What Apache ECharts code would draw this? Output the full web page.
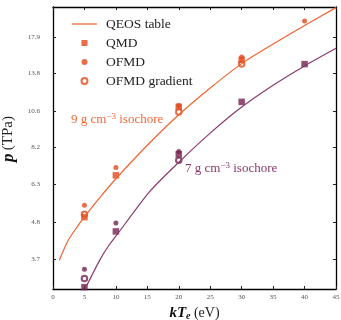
<!DOCTYPE html>
<html>
<head>
<meta charset="utf-8">
<script src="https://cdn.jsdelivr.net/npm/echarts@6/dist/echarts.min.js"></script>
<style>
  html, body { margin: 0; padding: 0; background: #fff; }
  #chart { width: 341px; height: 320px; }
</style>
</head>
<body>
<div id="chart"></div>
<script>
// tick labels (log-scaled pressure axis)
var yTicks = [3.7, 4.8, 6.3, 8.2, 10.6, 13.8, 17.9];

// QEOS table curves
var qeosT9 = [1, 2.4, 4, 5, 7.5, 10, 15, 20, 25, 30, 35, 40, 45];
var qeosP9 = [3.68, 4.23, 4.71, 5.0, 5.75, 6.55, 8.3, 10.3, 12.45, 14.8, 17.0, 19.4, 22.0];
var qeosT7 = [5.2, 7.5, 8.9, 10, 15.3, 20, 25, 30, 35, 40, 45];
var qeosP7 = [3.03, 3.7, 4.09, 4.36, 5.96, 7.36, 9.05, 10.88, 12.7, 14.56, 16.5];

// 9 g/cm3 isochore
var qmdT9 = [5, 10, 20, 30];
var qmdP9 = [4.99, 6.71, 10.9, 15.2];
var ofmdT9 = [5, 10, 20, 30, 40];
var ofmdP9 = [5.43, 7.09, 11.0, 15.5, 20.0];
var gradT9 = [5, 20, 30];
var gradP9 = [5.09, 10.5, 14.75];

// 7 g/cm3 isochore
var qmdT7 = [5, 10, 20, 30, 40];
var qmdP7 = [3.04, 4.51, 7.79, 11.29, 14.75];
var ofmdT7 = [5, 10, 20];
var ofmdP7 = [3.45, 4.79, 7.95];
var gradT7 = [5, 20];
var gradP7 = [3.23, 7.47];

var ORANGE = '#e24a1b';
var ORANGE_LINE = '#f2622e';
var PURPLE = '#74224f';
var PURPLE_LINE = '#8b3a6e';
var FONT = 'Liberation Serif';

function pts(t, p) {
  return t.map(function (x, i) { return [x, Math.log(p[i])]; });
}

var yMin = Math.log(3.0);
var yMax = Math.log(22.1);
var yTickVals = yTicks.map(function (v) { return Math.log(v); });

function xAxisCfg(pos, showLabel) {
  return {
    type: 'value',
    position: pos,
    min: 0,
    max: 45,
    interval: 5,
    name: showLabel ? '{b|kT}{s|e} {n|(eV)}' : '',
    nameLocation: 'middle',
    nameGap: 16,
    nameTextStyle: {
      rich: {
        b: { fontFamily: FONT, fontStyle: 'italic', fontWeight: 'bold', fontSize: 15, color: '#111' },
        s: { fontFamily: FONT, fontStyle: 'italic', fontWeight: 'bold', fontSize: 10, color: '#111', padding: [6, 0, 0, 0] },
        n: { fontFamily: FONT, fontSize: 14, color: '#222' }
      }
    },
    splitLine: { show: false },
    axisLine: { show: true, onZero: false, lineStyle: { color: '#000', width: 1.3 } },
    axisTick: { show: true, inside: true, length: 3, lineStyle: { color: '#222' } },
    axisLabel: { show: showLabel, margin: 5, fontFamily: FONT, fontSize: 7, color: '#555' }
  };
}

function yAxisCfg(pos, showLabel) {
  return {
    type: 'value',
    position: pos,
    min: yMin,
    max: yMax,
    name: showLabel ? '{b|p} {n|(TPa)}' : '',
    nameLocation: 'middle',
    nameGap: 23,
    nameTextStyle: {
      padding: [0, 0, 0, 18],
      rich: {
        b: { fontFamily: FONT, fontStyle: 'italic', fontWeight: 'bold', fontSize: 17, color: '#111' },
        n: { fontFamily: FONT, fontSize: 15, color: '#222' }
      }
    },
    splitLine: { show: false },
    axisLine: { show: true, onZero: false, lineStyle: { color: '#000', width: 1.3 } },
    axisTick: { show: true, inside: true, length: 3, customValues: yTickVals, lineStyle: { color: '#222' } },
    axisLabel: {
      show: showLabel,
      margin: 13,
      customValues: yTickVals,
      fontFamily: FONT,
      fontSize: 7,
      color: '#555',
      formatter: function (v) { return Math.exp(v).toFixed(1); }
    }
  };
}

function lineSeries(t, p, color) {
  return {
    name: 'QEOS table',
    type: 'line',
    data: pts(t, p),
    smooth: 0.25,
    symbol: 'none',
    lineStyle: { color: color, width: 1.2 },
    itemStyle: { color: color },
    silent: true
  };
}

function scatter(name, t, p, color, symbol, size) {
  var s = {
    name: name,
    type: 'scatter',
    data: pts(t, p),
    symbol: symbol,
    symbolSize: size,
    itemStyle: { color: color }
  };
  if (symbol === 'emptyCircle') {
    s.itemStyle.borderColor = color;
    s.itemStyle.borderWidth = 1;
  }
  return s;
}

var chart = echarts.init(document.getElementById('chart'));
chart.setOption({
  animation: false,
  backgroundColor: '#fff',
  grid: { left: 53, right: 5, top: 7, bottom: 31, containLabel: false, outerBoundsMode: 'none' },
  xAxis: [xAxisCfg('bottom', true), xAxisCfg('top', false)],
  yAxis: [yAxisCfg('left', true), yAxisCfg('right', false)],
  legend: {
    data: [
      { name: 'QEOS table', icon: 'path://M0,0H25V1.2H0Z' },
      { name: 'QMD', icon: 'path://M0,0H10V10H0Z' },
      { name: 'OFMD', icon: 'circle' },
      { name: 'OFMD gradient', icon: 'emptyCircle' }
    ],
    orient: 'vertical',
    left: 72,
    top: 17,
    padding: 0,
    itemWidth: 25,
    itemHeight: 6,
    itemGap: 5,
    selectedMode: false,
    textStyle: { fontFamily: FONT, fontSize: 13.5, color: '#222', padding: [0, 0, 0, 4] }
  },
  graphic: [
    {
      type: 'text',
      left: 71,
      top: 112,
      style: {
        text: '9 g cm{sup|\u22123} isochore',
        fontFamily: FONT,
        fontSize: 13,
        fill: '#f06a3a',
        rich: { sup: { fontFamily: FONT, fontSize: 9, fill: '#f06a3a', padding: [0, 0, 6, 0] } }
      }
    },
    {
      type: 'text',
      left: 185,
      top: 161,
      style: {
        text: '7 g cm{sup|\u22123} isochore',
        fontFamily: FONT,
        fontSize: 13,
        fill: '#8c3a6c',
        rich: { sup: { fontFamily: FONT, fontSize: 9, fill: '#8c3a6c', padding: [0, 0, 6, 0] } }
      }
    }
  ],
  series: [
    lineSeries(qeosT9, qeosP9, ORANGE_LINE),
    lineSeries(qeosT7, qeosP7, PURPLE_LINE),
    scatter('OFMD gradient', gradT9, gradP9, ORANGE, 'emptyCircle', 5.5),
    scatter('OFMD gradient', gradT7, gradP7, PURPLE, 'emptyCircle', 5.5),
    scatter('OFMD', ofmdT9, ofmdP9, ORANGE, 'circle', 5),
    scatter('OFMD', ofmdT7, ofmdP7, PURPLE, 'circle', 5),
    scatter('QMD', qmdT9, qmdP9, ORANGE, 'rect', 6.5),
    scatter('QMD', qmdT7, qmdP7, PURPLE, 'rect', 6.5)
  ]
});
</script>
</body>
</html>
